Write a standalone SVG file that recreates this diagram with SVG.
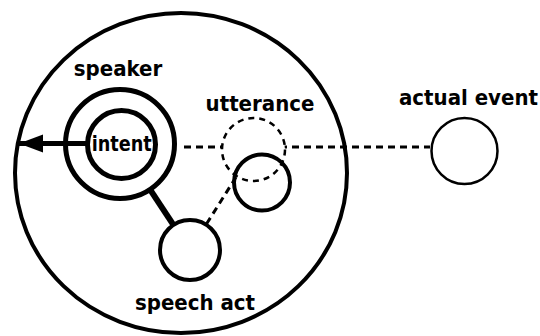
<svg xmlns="http://www.w3.org/2000/svg" width="540" height="336" viewBox="0 0 540 336">
<defs>
<style>
.lbl{font-family:"DejaVu Sans Condensed","DejaVu Sans",sans-serif;font-stretch:condensed;font-weight:bold;font-size:22px;fill:#000;text-anchor:middle}
.node{fill:#fff;stroke:#000}
.dash{fill:none;stroke:#000;stroke-width:3;stroke-dasharray:7 5}
</style>
<marker id="ah" markerUnits="userSpaceOnUse" markerWidth="26" markerHeight="20" refX="24" refY="10" orient="auto">
<path d="M0,1 L24,10 L0,19 Z" fill="#000"/>
</marker>
</defs>
<g id="context">
<ellipse cx="181" cy="173" rx="166" ry="160" fill="#fff" stroke="#000" stroke-width="4"/>
</g>
<g id="connectors">
<line x1="184" y1="147" x2="430" y2="147" class="dash"/>
<line x1="150.3" y1="189.9" x2="172.9" y2="224.1" stroke="#000" stroke-width="6"/>
<line x1="206.6" y1="223.8" x2="236.4" y2="176.5" class="dash"/>
<line x1="87" y1="143.5" x2="19" y2="143.5" stroke="#000" stroke-width="5" marker-end="url(#ah)"/>
</g>
<g id="speaker">
<circle cx="120" cy="144" r="54.5" fill="none" stroke="#000" stroke-width="5"/>
<text x="118" y="76" class="lbl">speaker</text>
</g>
<g id="intent">
<circle cx="121.5" cy="144.5" r="34" class="node" stroke-width="5"/>
<text x="121.7" y="151" class="lbl" textLength="60" lengthAdjust="spacingAndGlyphs">intent</text>
</g>
<g id="speech-act">
<circle cx="190" cy="250" r="30" class="node" stroke-width="4"/>
<text x="195" y="310" class="lbl">speech act</text>
</g>
<g id="utterance">
<circle cx="253.5" cy="149.5" r="31.5" fill="#fff" stroke="#000" stroke-width="2.5" stroke-dasharray="6 5"/>
<circle cx="262" cy="182.5" r="28" fill="none" stroke="#000" stroke-width="4"/>
<text x="260" y="111" class="lbl">utterance</text>
</g>
<g id="actual-event">
<circle cx="464.5" cy="151" r="33" class="node" stroke-width="2.5"/>
<text x="468.5" y="105" class="lbl">actual event</text>
</g>
</svg>
